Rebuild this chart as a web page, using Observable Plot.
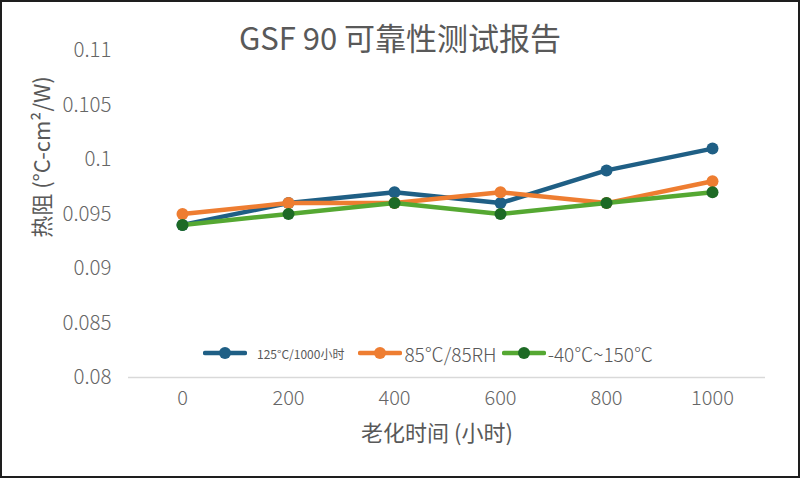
<!DOCTYPE html>
<html>
<head>
<meta charset="utf-8">
<script src="https://cdn.jsdelivr.net/npm/d3@7"></script>
<script src="https://cdn.jsdelivr.net/npm/@observablehq/plot@0.6"></script>
<style>
  html, body { margin: 0; padding: 0; background: #fff; }
  #wrap { position: relative; width: 800px; height: 478px; overflow: hidden;
          font-family: "Noto Sans CJK SC", "Noto Sans", sans-serif; color: #595959; }
  #chart svg { display: block; }
  .ov { position: absolute; white-space: nowrap; }
  #title { left: 0; width: 800px; top: 17px; text-align: center; font-size: 31px; font-weight: 400; line-height: 40px; }
  #ylabel { left: 40px; top: 157px; font-size: 22px; transform: translate(-50%, -50%) rotate(-90deg); }
  #xlabel { left: 437px; top: 431px; font-size: 22px; transform: translate(-50%, -50%); }
  #legend { left: 203px; top: 341px; height: 24px; display: flex; align-items: center; }
  #legend .item { display: flex; align-items: center; }
  #legend svg { display: block; }
  #frame { position: absolute; left: 0; top: 0; width: 800px; height: 478px; box-sizing: border-box;
           border: 2px solid #1e1e1e; pointer-events: none; }
</style>
</head>
<body>
<div id="wrap">
  <div id="chart"></div>
  <div class="ov" id="title">GSF 90 可靠性测试报告</div>
  <div class="ov" id="ylabel">热阻 (°C-cm²/W)</div>
  <div class="ov" id="xlabel">老化时间 (小时)</div>
  <div class="ov" id="legend"></div>
  <div id="frame"></div>
</div>
<script>
// ---- data ----
const hours = [0, 200, 400, 600, 800, 1000];
const seriesNames = ["125°C/1000小时", "85℃/85RH", "-40℃~150℃"];
const s125 = [0.094, 0.096, 0.097, 0.096, 0.099, 0.101];
const s85 = [0.095, 0.096, 0.096, 0.097, 0.096, 0.098];
const sCycle = [0.094, 0.095, 0.096, 0.095, 0.096, 0.097];
const yTicks = [0.08, 0.085, 0.09, 0.095, 0.1, 0.105, 0.11];

const lineColors = ["#1f5f85", "#ee7d31", "#55a832"];
const dotColors = ["#1f5f85", "#ee7d31", "#1d6a25"];
const legendFont = [12, 19, 19];

const valuesList = [s125, s85, sCycle];
const rows = [];
valuesList.forEach((vals, i) => {
  vals.forEach((v, j) => rows.push({series: seriesNames[i], t: String(hours[j]), v}));
});

const marks = [
  Plot.ruleY([0.08], {stroke: "#d9d9d9", strokeWidth: 1.5}),
  Plot.axisX({tickSize: 0, tickPadding: 13, fontSize: 20, fontWeight: 300, fill: "#666", label: null}),
  Plot.axisY({ticks: yTicks, tickSize: 0, tickPadding: 17, fontSize: 20.5, fontWeight: 300, fill: "#666",
              tickFormat: d => String(+d.toFixed(3)), label: null})
];
seriesNames.forEach((name, i) => {
  const d = rows.filter(r => r.series === name);
  marks.push(Plot.line(d, {x: "t", y: "v", stroke: lineColors[i], strokeWidth: 4.5, curve: "linear"}));
  marks.push(Plot.dot(d, {x: "t", y: "v", fill: dotColors[i], r: 6}));
});

const chart = Plot.plot({
  width: 800,
  height: 478,
  marginLeft: 128,
  marginRight: 35,
  marginTop: 50,
  marginBottom: 101,
  style: {fontFamily: "'Noto Sans CJK SC', 'Noto Sans', sans-serif", color: "#595959", background: "#fff"},
  x: {type: "point", domain: hours.map(String), padding: 0.5},
  y: {domain: [0.08, 0.11]},
  marks
});
document.getElementById("chart").appendChild(chart);

// ---- legend ----
const legend = document.getElementById("legend");
seriesNames.forEach((name, i) => {
  const item = document.createElement("div");
  item.className = "item";
  item.style.marginRight = (i === 0 ? 14 : 5) + "px";
  const svg = `<svg width="44" height="16"><line x1="2" x2="42" y1="8" y2="8" stroke="${lineColors[i]}" stroke-width="4.5" stroke-linecap="round"/><circle cx="22" cy="8" r="6" fill="${dotColors[i]}"/></svg>`;
  item.innerHTML = svg + `<span style="font-size:${legendFont[i]}px;font-weight:${i === 0 ? 400 : 300};margin-left:${i === 0 ? 10 : 2}px">${name}</span>`;
  legend.appendChild(item);
});
</script>
</body>
</html>
